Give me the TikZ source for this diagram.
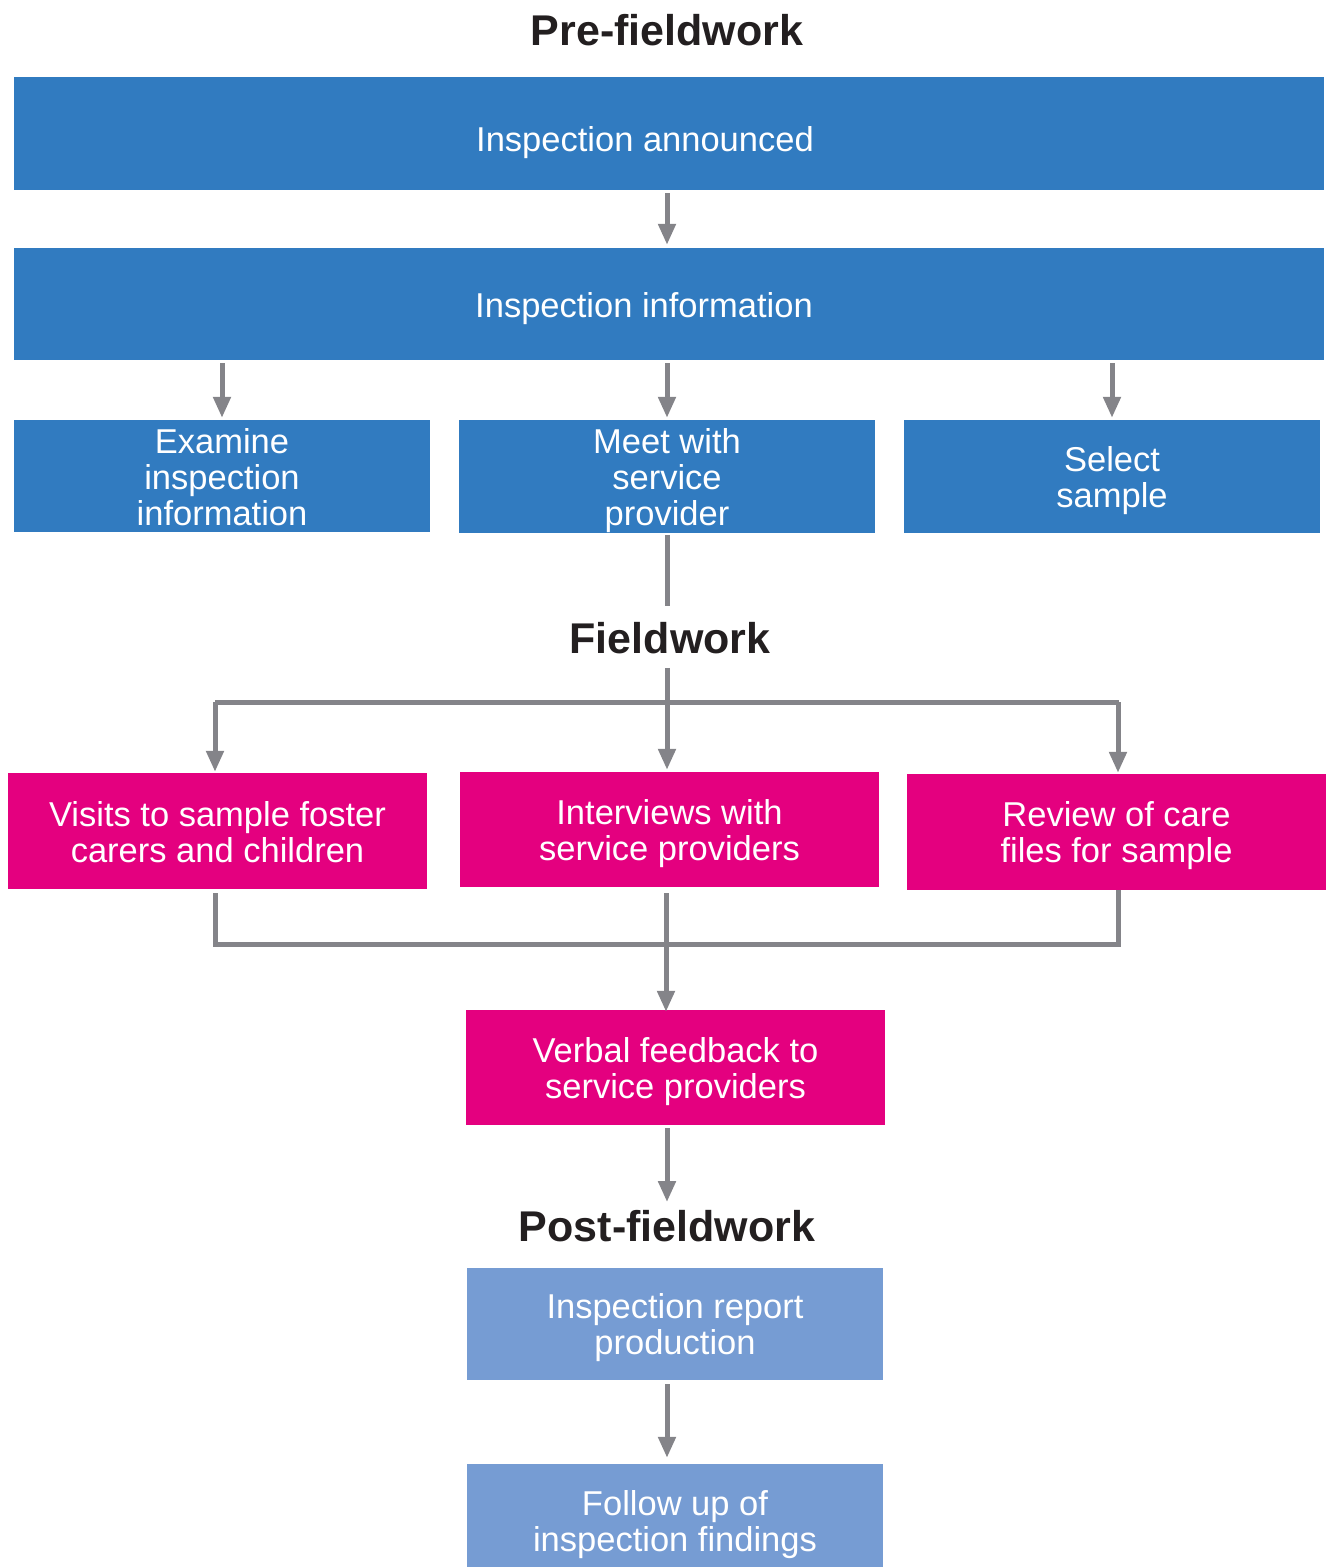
\documentclass[tikz,border=0pt]{standalone}
\usepackage{fontspec}
\setmainfont{Liberation Sans}
\usetikzlibrary{arrows.meta}
\definecolor{boxblue}{RGB}{49,123,192}
\definecolor{boxpink}{RGB}{228,0,127}
\definecolor{boxlight}{RGB}{118,156,211}
\definecolor{linegray}{RGB}{132,132,137}
\definecolor{titlecol}{RGB}{35,31,32}
\tikzset{
  boxbase/.style={rectangle, inner sep=0pt},
  bluebox/.style={boxbase, fill=boxblue},
  pinkbox/.style={boxbase, fill=boxpink},
  lightbox/.style={boxbase, fill=boxlight},
  boxlabel/.style={text=white, align=center, font=\fontsize{34.5}{36}\selectfont, inner sep=0pt},
  lbl/.style={label={[boxlabel,yshift=-4pt]center:#1}},
  lblhi/.style={label={[boxlabel,yshift=-1pt]center:#1}},
  phase/.style={inner sep=0pt, text=titlecol, font=\fontsize{43}{45}\selectfont\bfseries},
  conn/.style={draw=linegray, line width=5pt},
  arr/.style={conn, -{Triangle[width=17pt,length=21pt]}},
}
\begin{document}
\begin{tikzpicture}[x=1pt,y=-1pt]
\useasboundingbox (0,0) rectangle (1330,1567);
\begin{scope}
\clip (0,0) rectangle (1330,1567);
% titles
\node[phase] (pre) at (667,30) {Pre-fieldwork};
\node[phase] (fw) at (670,638) {Fieldwork};
\node[phase] (pf) at (667,1226) {Post-fieldwork};
% pre-fieldwork
\node[bluebox, minimum width=1310pt, minimum height=113pt,
  label={[boxlabel,xshift=-24pt,yshift=-9pt]center:Inspection announced}] (b1) at (669,133.5) {};
\node[bluebox, minimum width=1310pt, minimum height=112pt,
  label={[boxlabel,xshift=-25pt,yshift=-5pt]center:Inspection information}] (b2) at (669,304) {};
\node[bluebox, minimum width=416pt, minimum height=112pt, lblhi={Examine\\inspection\\information}] (b3) at (222,476) {};
\node[bluebox, minimum width=416pt, minimum height=113pt, lbl={Meet with\\service\\provider}] (b4) at (667,476.5) {};
\node[bluebox, minimum width=416pt, minimum height=113pt, lbl={Select\\sample}] (b5) at (1112,476.5) {};
% fieldwork
\node[pinkbox, minimum width=419pt, minimum height=116pt, lblhi={Visits to sample foster\\carers and children}] (b6) at (217.5,831) {};
\node[pinkbox, minimum width=419pt, minimum height=115pt, lbl={Interviews with\\service providers}] (b7) at (669.5,829.5) {};
\node[pinkbox, minimum width=419pt, minimum height=116pt, lbl={Review of care\\files for sample}] (b8) at (1116.5,832) {};
\node[pinkbox, minimum width=419pt, minimum height=115pt, lbl={Verbal feedback to\\service providers}] (b9) at (675.5,1067.5) {};
% post-fieldwork
\node[lightbox, minimum width=416pt, minimum height=112pt, lbl={Inspection report\\production}] (b10) at (675,1324) {};
\node[lightbox, minimum width=416pt, minimum height=113pt, lbl={Follow up of\\inspection findings}] (b11) at (675,1520.5) {};
% coordinates
\coordinate (split) at (667,702);
\coordinate (merge) at (667,944);
% connectors
\draw[arr, shorten <=3pt, shorten >=3pt] (b1.south -| b4.north) -- (b2.north -| b4.north);
\draw[arr, shorten <=3pt, shorten >=2pt] (b3.north |- b2.south) -- (b3.north);
\draw[arr, shorten <=3pt, shorten >=2pt] (b4.north |- b2.south) -- (b4.north);
\draw[arr, shorten <=3pt, shorten >=2pt] (b5.north |- b2.south) -- (b5.north);
\draw[conn, shorten <=2pt, shorten >=16pt] (b4.south) -- (fw.north -| b4.south);
\draw[conn, shorten <=14pt] (fw.south -| split) -- (split);
\draw[conn] ([xshift=-2.5pt]b6.north |- split) -- ([xshift=2.5pt]b8.north |- split);
\draw[arr, shorten >=1pt] ([xshift=-2.5pt]b6.north |- split) -- ([xshift=-2.5pt]b6.north);
\draw[arr, shorten >=2pt] (split) -- (split |- b7.north);
\draw[arr, shorten >=1pt] ([xshift=1.5pt]b8.north |- split) -- ([xshift=1.5pt]b8.north);
\draw[conn, shorten <=4pt] ([xshift=-2.5pt]b6.south) -- ([xshift=-2.5pt]b6.south |- merge) -- ([xshift=1.5pt]b8.south |- merge) -- ([xshift=1.5pt]b8.south);
\draw[arr, shorten <=6pt, shorten >=-2pt] ([xshift=-3.5pt]b7.south) -- ([xshift=-3.5pt]b7.south |- b9.north);
\draw[arr, shorten <=3pt, shorten >=8pt] (b9.south -| pf) -- (pf.north);
\draw[arr, shorten <=4pt, shorten >=6pt] (b10.south -| pf) -- (b11.north -| pf);
\end{scope}
\end{tikzpicture}
\end{document}
